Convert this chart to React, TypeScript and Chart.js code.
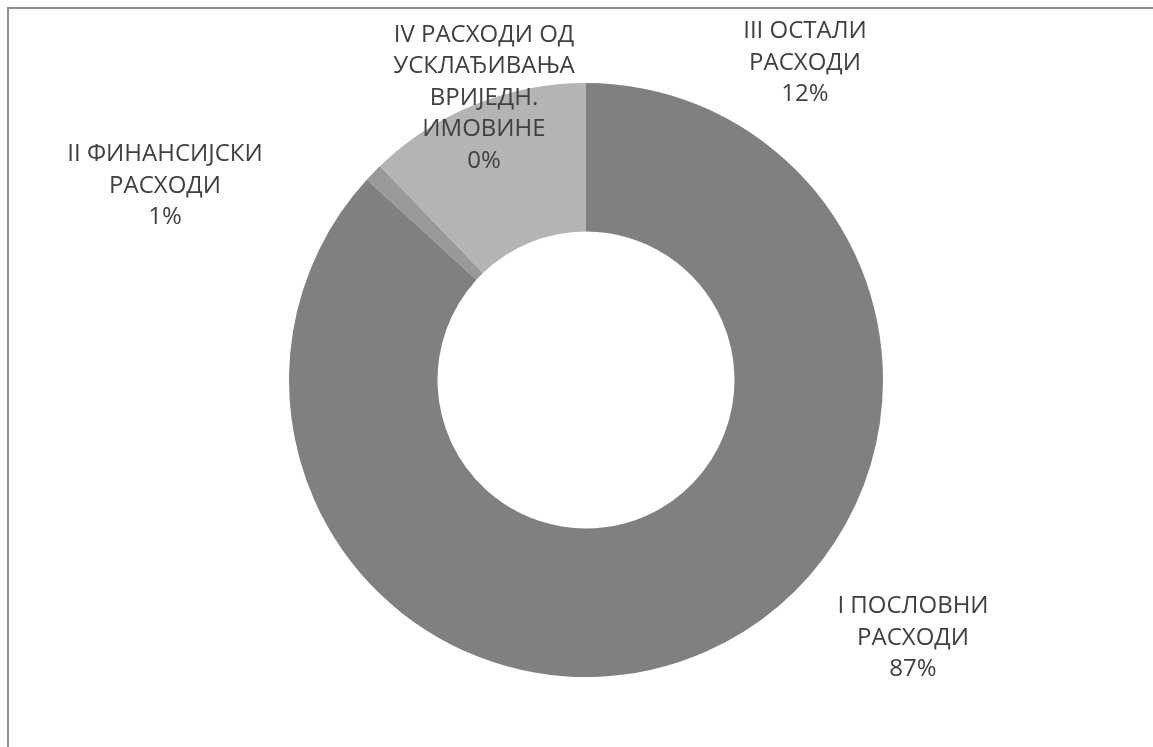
import React, { useEffect, useRef } from "react";
import { Chart, registerables } from "chart.js";

Chart.register(...registerables);

const categories: string[] = [
  "I ПОСЛОВНИ РАСХОДИ",
  "II ФИНАНСИЈСКИ РАСХОДИ",
  "III ОСТАЛИ РАСХОДИ",
  "IV РАСХОДИ ОД УСКЛАЂИВАЊА ВРИЈЕДН. ИМОВИНЕ",
];
const categoryLines: string[][] = [
  ["I ПОСЛОВНИ", "РАСХОДИ"],
  ["II ФИНАНСИЈСКИ", "РАСХОДИ"],
  ["III ОСТАЛИ", "РАСХОДИ"],
  ["IV РАСХОДИ ОД", "УСКЛАЂИВАЊА", "ВРИЈЕДН.", "ИМОВИНЕ"],
];
const values: number[] = [86.8, 1.0, 12.2, 0];
const colors: string[] = ["#808080", "#999999", "#b4b4b4", "#c8c8c8"];
// label block centre offsets from the doughnut centre (manually placed labels)
const labelOffsets: [number, number][] = [
  [327, 258],
  [-421, -194],
  [219, -317],
  [-102, -282],
];

const FONT = '24px "Open Sans", sans-serif';
const LINE_H = 31.5;

const labelPlugin = {
  id: "manualLabels",
  afterDraw(chart: any) {
    const ctx = chart.ctx;
    const meta = chart.getDatasetMeta(0);
    const arc = meta.data[0];
    if (!arc) return;
    const cx = arc.x;
    const cy = arc.y;
    const data = chart.data.datasets[0].data as number[];
    const total = data.reduce((a, b) => a + b, 0);
    ctx.save();
    ctx.font = FONT;
    ctx.fillStyle = "#404040";
    ctx.textAlign = "center";
    ctx.textBaseline = "middle";
    data.forEach((v, i) => {
      const lines = [...categoryLines[i], Math.round((v / total) * 100) + "%"];
      const [dx, dy] = labelOffsets[i];
      const startY = cy + dy - ((lines.length - 1) * LINE_H) / 2;
      lines.forEach((t, k) => {
        ctx.fillText(t, cx + dx, startY + k * LINE_H);
      });
    });
    ctx.restore();
  },
};

export default function App() {
  const ref = useRef<HTMLCanvasElement | null>(null);
  useEffect(() => {
    document.body.style.margin = "0";
    document.body.style.overflow = "hidden";
    if (!ref.current) return;
    const chart = new Chart(ref.current, {
      type: "doughnut",
      data: {
        labels: categories,
        datasets: [
          {
            data: values,
            backgroundColor: colors,
            borderWidth: 0,
          },
        ],
      },
      options: {
        responsive: false,
        animation: false,
        cutout: "50%",
        rotation: 0,
        layout: { padding: { left: 289, right: 270, top: 83, bottom: 70 } },
        plugins: {
          legend: { display: false },
          tooltip: { enabled: false },
        },
      },
      plugins: [labelPlugin],
    });
    return () => chart.destroy();
  }, []);

  return (
    <div style={{ position: "fixed", left: 0, top: 0, width: 1153, height: 747, overflow: "hidden", background: "#fff" }}>
      <div
        style={{
          position: "absolute",
          left: 7,
          top: 7,
          width: 1300,
          height: 900,
          borderTop: "2px solid #8c8c8c",
          borderLeft: "2px solid #8c8c8c",
        }}
      />
      <canvas ref={ref} width={1153} height={747} style={{ position: "absolute", left: 0, top: 0 }} />
    </div>
  );
}
